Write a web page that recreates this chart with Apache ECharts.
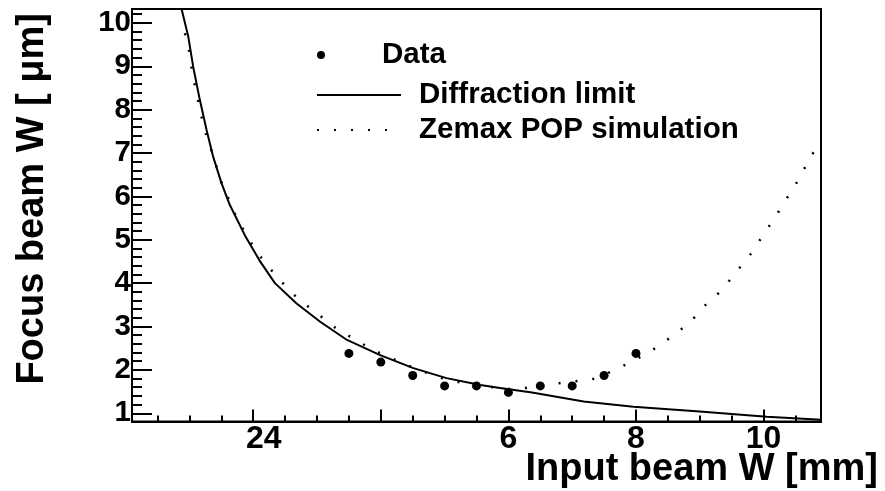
<!DOCTYPE html>
<html>
<head>
<meta charset="utf-8">
<script src="https://cdn.jsdelivr.net/npm/echarts@6/dist/echarts.min.js"></script>
<style>html,body{margin:0;padding:0;background:#fff;}#c{width:885px;height:491px;}</style>
</head>
<body>
<div id="c"></div>
<script>
// ---- data ----
const dataX = [3.5, 4.0, 4.5, 5.0, 5.5, 6.0, 6.5, 7.0, 7.5, 8.0];
const dataY = [2.38, 2.18, 1.87, 1.63, 1.63, 1.48, 1.63, 1.63, 1.87, 2.38];

const diffX = [0.877, 0.98, 1.059, 1.164, 1.269, 1.373, 1.504, 1.634, 1.87, 2.1, 2.34, 2.68, 3.05, 3.47, 3.99, 4.51, 5.03, 5.56, 5.87, 6.37, 7.18, 7.96, 9.0, 10.05, 10.9];
const diffY = [10.32, 9.7, 8.99, 8.22, 7.53, 6.91, 6.30, 5.80, 5.10, 4.52, 4.0, 3.53, 3.11, 2.69, 2.34, 2.04, 1.81, 1.65, 1.58, 1.48, 1.27, 1.15, 1.04, 0.92, 0.85];

const zemaxX = [0.93, 1.0, 1.04, 1.10, 1.164, 1.227, 1.32, 1.5, 1.74, 1.885, 2.04, 2.23, 2.42, 2.63, 2.86, 3.1, 3.33, 3.6, 3.86, 4.41, 4.67, 4.96, 5.24, 5.84, 6.1, 6.39, 6.71, 7.31, 7.58, 7.85, 8.12, 8.38, 8.61, 8.85, 9.03, 9.27, 9.47, 9.66, 9.84, 10.0, 10.17, 10.33, 10.49, 10.63, 10.78, 10.9];
const zemaxY = [9.76, 9.32, 8.89, 8.45, 8.01, 7.58, 7.17, 6.33, 5.51, 5.13, 4.75, 4.39, 4.07, 3.74, 3.46, 3.19, 2.92, 2.70, 2.47, 2.11, 1.96, 1.81, 1.71, 1.58, 1.55, 1.61, 1.68, 1.78, 1.94, 2.13, 2.34, 2.57, 2.83, 3.09, 3.42, 3.73, 4.07, 4.42, 4.75, 5.13, 5.49, 5.88, 6.24, 6.62, 7.01, 7.30];

const xMajorTicks = [2, 4, 6, 8, 10];
const xTickLabels = ['24', '', '6', '8', '10'];
const xMinorTicks = [0.5, 1, 1.5, 2.5, 3, 3.5, 4.5, 5, 5.5, 6.5, 7, 7.5, 8.5, 9, 9.5, 10.5];
const yMajorTicks = [1, 2, 3, 4, 5, 6, 7, 8, 9, 10];
const yTickLabels = ['1', '2', '3', '4', '5', '6', '7', '8', '9', '10'];
const yMinorTicks = [];
for (let i = 6; i <= 51; i++) { if (i % 5 !== 0) yMinorTicks.push(+(i * 0.2).toFixed(1)); }

const seriesNames = ['Data', 'Diffraction limit', 'Zemax POP simulation'];
const xTitle = 'Input beam W [mm]';
const yTitle = 'Focus beam W [ \u03bcm]';

// ---- build ----
const zip = (a, b) => a.map((v, i) => [v, b[i]]);
const FONT = 'Liberation Sans';
const X0 = 0.1, X1 = 10.9, Y0 = 0.81, Y1 = 10.32;

const chart = echarts.init(document.getElementById('c'), null, {renderer: 'canvas'});
const legendBase = {
  orient: 'vertical', padding: 0, itemGap: 0, selectedMode: false,
  textStyle: {fontFamily: FONT, fontWeight: 'bold', fontSize: 29.5, color: '#000'}
};
chart.setOption({
  animation: false,
  backgroundColor: '#fff',
  grid: {left: 132, right: 64, top: 9, bottom: 69.5, show: true, borderColor: '#000', borderWidth: 2, backgroundColor: 'transparent'},
  xAxis: [
    {
      type: 'value', min: X0, max: X1, position: 'bottom',
      axisLine: {show: true, onZero: false, lineStyle: {color: '#000', width: 2}},
      axisTick: {show: true, inside: true, length: 12, customValues: xMajorTicks, lineStyle: {color: '#000', width: 2}},
      axisLabel: {
        show: true, customValues: xMajorTicks, margin: 2,
        fontFamily: FONT, fontWeight: 'bold', fontSize: 32, color: '#000',
        formatter: function (v) {
          const i = xMajorTicks.indexOf(Math.round(v * 100) / 100);
          const t = i >= 0 ? xTickLabels[i] : '';
          return i === 0 ? '{s|' + t + '}' : t;
        },
        rich: {s: {padding: [0, 0, 0, 21], fontFamily: FONT, fontWeight: 'bold', fontSize: 32, color: '#000'}}
      },
      splitLine: {show: false}
    },
    {
      type: 'value', min: X0, max: X1, position: 'bottom',
      axisLine: {show: false},
      axisTick: {show: true, inside: true, length: 6, customValues: xMinorTicks, lineStyle: {color: '#000', width: 2}},
      axisLabel: {show: false},
      splitLine: {show: false}
    }
  ],
  yAxis: [
    {
      type: 'value', min: Y0, max: Y1, position: 'left',
      axisLine: {show: true, onZero: false, lineStyle: {color: '#000', width: 2}},
      axisTick: {show: true, inside: true, length: 20, customValues: yMajorTicks, lineStyle: {color: '#000', width: 2}},
      axisLabel: {
        show: true, customValues: yMajorTicks, margin: 1,
        fontFamily: FONT, fontWeight: 'bold', fontSize: 29.5, color: '#000',
        formatter: function (v) {
          const i = yMajorTicks.indexOf(Math.round(v));
          return i >= 0 ? yTickLabels[i] : '';
        }
      },
      splitLine: {show: false}
    },
    {
      type: 'value', min: Y0, max: Y1, position: 'left',
      axisLine: {show: false},
      axisTick: {show: true, inside: true, length: 10, customValues: yMinorTicks, lineStyle: {color: '#000', width: 2}},
      axisLabel: {show: false},
      splitLine: {show: false}
    }
  ],
  legend: [
    Object.assign({}, legendBase, {
      data: [seriesNames[0]], left: 317, top: 40, icon: 'circle', itemWidth: 8, itemHeight: 8,
      itemStyle: {color: '#000', opacity: 1},
      textStyle: Object.assign({}, legendBase.textStyle, {padding: [0, 0, 0, 52]})
    }),
    Object.assign({}, legendBase, {
      data: [seriesNames[1]], left: 316, top: 80, itemWidth: 84, itemHeight: 14,
      itemStyle: {opacity: 0},
      textStyle: Object.assign({}, legendBase.textStyle, {padding: [0, 0, 0, 13]})
    }),
    Object.assign({}, legendBase, {
      data: [seriesNames[2]], left: 316, top: 115, itemWidth: 84, itemHeight: 14,
      itemStyle: {opacity: 0},
      textStyle: Object.assign({}, legendBase.textStyle, {padding: [0, 0, 0, 13]})
    })
  ],
  graphic: [
    {type: 'text', x: 878, y: 470, style: {text: xTitle, fontFamily: FONT, fontWeight: 'bold', fontSize: 38, fill: '#000', textAlign: 'right', textVerticalAlign: 'middle'}},
    {type: 'text', x: 33, y: 13, rotation: Math.PI / 2, style: {text: yTitle, fontFamily: FONT, fontWeight: 'bold', fontSize: 38, fill: '#000', textAlign: 'right', textVerticalAlign: 'middle'}}
  ],
  series: [
    {
      name: seriesNames[1], type: 'line', xAxisIndex: 0, yAxisIndex: 0,
      data: zip(diffX, diffY), symbol: 'none', showSymbol: false, smooth: false, clip: true,
      lineStyle: {color: '#000', width: 2}, itemStyle: {color: '#000'}, z: 2
    },
    {
      name: seriesNames[2], type: 'line', xAxisIndex: 0, yAxisIndex: 0,
      data: zip(zemaxX, zemaxY), symbol: 'none', showSymbol: false, smooth: false, clip: true,
      lineStyle: {color: '#000', width: 2.5, type: [2, 15]}, itemStyle: {color: '#000'}, z: 2
    },
    {
      name: seriesNames[0], type: 'scatter', xAxisIndex: 0, yAxisIndex: 0,
      data: zip(dataX, dataY), symbol: 'circle', symbolSize: 9,
      itemStyle: {color: '#000', opacity: 1}, z: 3
    }
  ]
});
</script>
</body>
</html>
